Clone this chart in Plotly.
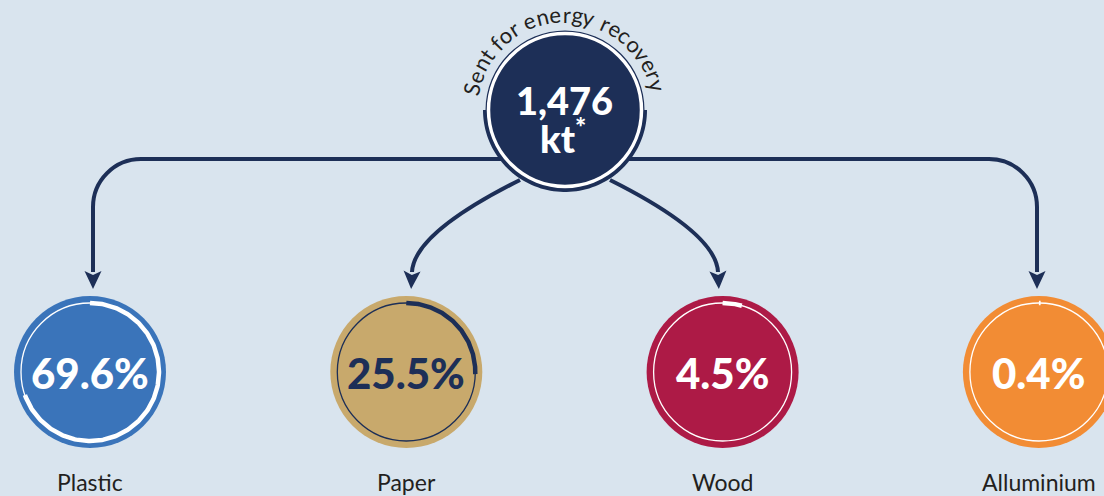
import numpy as np
import plotly.graph_objects as go

# ---------------- data ----------------
categories = ["Plastic", "Paper", "Wood", "Alluminium"]
shares = [69.6, 25.5, 4.5, 0.4]
share_labels = ["69.6%", "25.5%", "4.5%", "0.4%"]
total_label = "1,476"
unit_label = "kt"
title_label = "Sent for energy recovery"

# ---------------- style / layout constants ----------------
W, H = 1104, 496
BG = "#d9e4ee"
NAVY = "#1d2f57"
FILLS = ["#3a74ba", "#c8a96c", "#ad1a46", "#f28c34"]
RING = ["white", NAVY, "white", "white"]
TXT = ["white", NAVY, "white", "white"]
LABEL_COLOR = "#231f20"
FONT = "Lato"

CX0, DX, CY = 90.0, 316.3, 372.0
R_CIRCLE, R_RING = 76.0, 69.0
TOP_CX, TOP_CY = 565.0, 110.0
LINE_Y = 159.0
LW = 4

fig = go.Figure()
shapes = []


def add_path(path, color=None, width=LW, fill=None):
    shapes.append(dict(type="path", path=path, xref="x", yref="y", layer="below",
                       line=dict(color=color if color else "rgba(0,0,0,0)", width=width if color else 0),
                       fillcolor=fill if fill else "rgba(0,0,0,0)"))


def arrowhead(tip, d, L=18.0, w=8.5, notch=4.0):
    d = np.array(d, float)
    d = d / np.linalg.norm(d)
    n = np.array([-d[1], d[0]])
    t = np.array(tip, float)
    p1 = t - L * d + w * n
    p2 = t - (L - notch) * d
    p3 = t - L * d - w * n
    pts = [t, p1, p2, p3]
    s = "M " + " L ".join(f"{p[0]:.2f},{p[1]:.2f}" for p in pts) + " Z"
    add_path(s, fill=NAVY)


# ---- connectors (straight ones to outer circles) ----
xs = [CX0 + i * DX for i in range(len(categories))]
k = 0.5523
Rc = 48.0
for side in (-1, 1):
    vx = TOP_CX + side * (TOP_CX - 93.0)
    hx = vx - side * Rc
    path = (f"M {TOP_CX},{LINE_Y} L {hx},{LINE_Y} "
            f"C {hx + side * Rc * k},{LINE_Y} {vx},{LINE_Y + Rc - Rc * k} {vx},{LINE_Y + Rc} "
            f"L {vx},{272}")
    add_path(path, color=NAVY)
    arrowhead((vx, 289.0), (0, 1))

# ---- curved connectors (to inner circles) ----
for side in (-1, 1):
    p0 = (TOP_CX + side * 45.0, 180.0)
    p1 = (TOP_CX + side * 151.0, 233.0)
    p2 = (TOP_CX + side * 153.0, 272.0)
    add_path(f"M {p0[0]},{p0[1]} Q {p1[0]},{p1[1]} {p2[0]},{p2[1]}", color=NAVY)
    d = np.array(p2) - np.array(p1)
    d = d / np.linalg.norm(d)
    arrowhead((p2[0] + 17 * d[0], p2[1] + 17 * d[1]), d)

# ---- top circle ----
shapes.append(dict(type="circle", xref="x", yref="y", layer="below",
                   x0=TOP_CX - 79.5, x1=TOP_CX + 79.5, y0=TOP_CY - 79.5, y1=TOP_CY + 79.5,
                   fillcolor=NAVY, line=dict(width=0)))
th = np.linspace(np.pi / 2, 3 * np.pi / 2, 80)  # lower half (angles from top, clockwise)
outer = [(TOP_CX + 82.0 * np.sin(a), TOP_CY - 82.0 * np.cos(a)) for a in th]
inner = [(TOP_CX + 77.0 * np.sin(a), TOP_CY - 77.0 * np.cos(a)) for a in th[::-1]]
pts = outer + inner
add_path("M " + " L ".join(f"{x:.2f},{y:.2f}" for x, y in pts) + " Z", fill=NAVY)
shapes.append(dict(type="circle", xref="x", yref="y", layer="below",
                   x0=TOP_CX - 76.5, x1=TOP_CX + 76.5, y0=TOP_CY - 76.5, y1=TOP_CY + 76.5,
                   fillcolor=NAVY, line=dict(width=3.5, color="white")))

# ---- category circles ----
for i, cx in enumerate(xs):
    shapes.append(dict(type="circle", xref="x", yref="y", layer="below",
                       x0=cx - R_CIRCLE, x1=cx + R_CIRCLE, y0=CY - R_CIRCLE, y1=CY + R_CIRCLE,
                       fillcolor=FILLS[i], line=dict(width=0)))
    shapes.append(dict(type="circle", xref="x", yref="y", layer="below",
                       x0=cx - R_RING, x1=cx + R_RING, y0=CY - R_RING, y1=CY + R_RING,
                       fillcolor="rgba(0,0,0,0)", line=dict(width=1.3, color=RING[i])))
    ang = np.radians(np.linspace(0, 360 * shares[i] / 100.0, 200))
    fig.add_trace(go.Scatter(x=cx + R_RING * np.sin(ang), y=CY - R_RING * np.cos(ang),
                             mode="lines", line=dict(color=RING[i], width=4.5),
                             hoverinfo="skip", showlegend=False))

annotations = []
for i, cx in enumerate(xs):
    annotations.append(dict(x=cx, y=CY + 1, text=share_labels[i], showarrow=False,
                            xanchor="center", yanchor="middle",
                            font=dict(family=FONT, size=42, color=TXT[i], weight=900)))
    annotations.append(dict(x=cx, y=482, text=categories[i], showarrow=False,
                            xanchor="center", yanchor="middle",
                            font=dict(family=FONT, size=23, color=LABEL_COLOR)))

annotations.append(dict(x=TOP_CX - 1, y=100, text=total_label, showarrow=False,
                        xanchor="center", yanchor="middle",
                        font=dict(family=FONT, size=38, color="white", weight=900)))
annotations.append(dict(x=TOP_CX - 2, y=136, text=unit_label + "<sup>*</sup>", showarrow=False,
                        xanchor="center", yanchor="middle",
                        font=dict(family=FONT, size=38, color="white", weight=900)))

# ---- curved title text ----
w_em = {"S": .50, "e": .52, "n": .55, "t": .33, " ": .25, "f": .30, "o": .55, "r": .36,
        "g": .49, "y": .48, "c": .45, "v": .48}
fs = 22
adv = np.array([w_em.get(c, .5) * fs + 0.5 for c in title_label])
pos = np.cumsum(adv) - adv / 2
a0, a1 = -77.0, 75.0
angs = a0 + (pos - pos[0]) / (pos[-1] - pos[0]) * (a1 - a0)
R_TXT = 96.0
for c, a in zip(title_label, angs):
    if c == " ":
        continue
    r = np.radians(a)
    annotations.append(dict(x=TOP_CX + R_TXT * np.sin(r), y=TOP_CY - R_TXT * np.cos(r),
                            text=c, showarrow=False, textangle=a,
                            xanchor="center", yanchor="middle",
                            font=dict(family=FONT, size=fs, color=LABEL_COLOR)))

fig.update_layout(
    width=W, height=H, margin=dict(l=0, r=0, t=0, b=0),
    paper_bgcolor=BG, plot_bgcolor=BG,
    xaxis=dict(range=[0, W], visible=False, fixedrange=True),
    yaxis=dict(range=[H, 0], visible=False, fixedrange=True),
    shapes=shapes, annotations=annotations, showlegend=False, hovermode=False,
)
fig.write_html("out.html", config={"displayModeBar": False},
               post_script="document.body.style.margin='0';document.body.style.overflow='hidden';"
                           "document.body.style.background='" + BG + "';")
